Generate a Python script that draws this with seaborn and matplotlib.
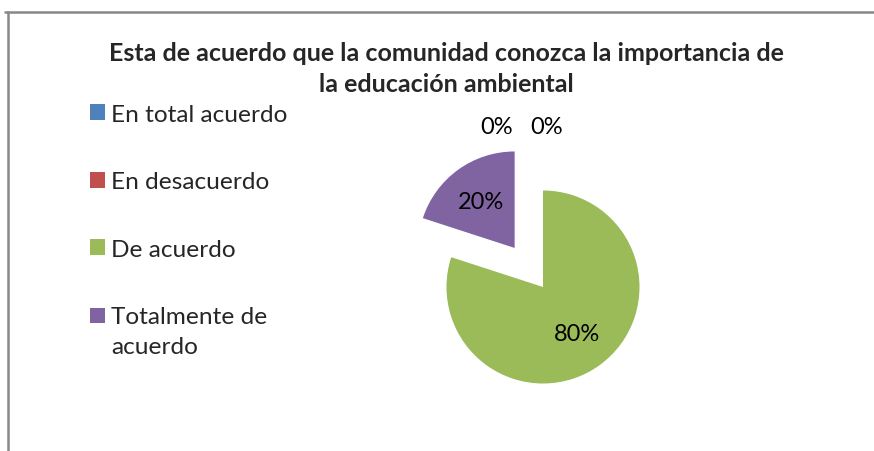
import matplotlib
matplotlib.use("Agg")
import matplotlib.pyplot as plt
import seaborn as sns
from matplotlib.lines import Line2D

# =========================
# DATA
# =========================

categorias = ["En total acuerdo", "En desacuerdo", "De acuerdo", "Totalmente de\nacuerdo"]
porcentajes = [0, 0, 80, 20]
colores = ["#4F81BD", "#C0504D", "#9BBB59", "#8064A2"]
separacion = [0, 0, 0, 0.5]

titulo = "Esta de acuerdo que la comunidad conozca la importancia de\nla educación ambiental"

# =========================
# FIGURE
# =========================

sns.set_theme(style="white")
plt.rcParams["font.family"] = ["Lato", "DejaVu Sans"]

W, H = 874, 452
fig = plt.figure(figsize=(W / 100, H / 100), dpi=100)

# pie axes: 96.5 px per data unit, center at (543, 288) px from top-left
r_px = 96.5
cx, cy = 543, 288
aw, ah = 400, 360
ax = fig.add_axes([(cx - aw / 2) / W, (H - cy - ah / 2) / H, aw / W, ah / H])

wedges, textos, autotextos = ax.pie(
    porcentajes,
    colors=colores,
    explode=separacion,
    startangle=90,
    counterclock=False,
    autopct="%1.0f%%",
    pctdistance=0.6,
    textprops={"fontsize": 17, "color": "black"},
    wedgeprops={"linewidth": 0},
)
ax.set_xlim(-aw / 2 / r_px, aw / 2 / r_px)
ax.set_ylim(-ah / 2 / r_px, ah / 2 / r_px)
ax.set_aspect("equal")
ax.axis("off")

# the two 0% labels sit above the pie, side by side
autotextos[0].set_position((-0.48, 1.66))
autotextos[1].set_position((0.04, 1.66))

# =========================
# LEGEND
# =========================

leg = fig.legend(
    wedges,
    categorias,
    loc="upper left",
    bbox_to_anchor=(90 / W, 1 - 105 / H),
    frameon=False,
    fontsize=17.6,
    handlelength=0.62,
    handleheight=0.62,
    handletextpad=0.25,
    labelspacing=1.9,
    borderpad=0,
    borderaxespad=0,
)
for t in leg.get_texts():
    t.set_linespacing(1.5)

# keep the last marker level with the first line of its two-line label
ultimo = leg.legend_handles[-1]
ultimo.set_y(ultimo.get_y() + 11.5)

# =========================
# TITLE
# =========================

fig.text(446 / W, 1 - 69 / H, titulo, ha="center", va="center",
         fontsize=18, fontweight="bold", linespacing=1.42)

# chart border (top and left visible)
borde = "#888888"
fig.add_artist(Line2D([5 / W, 1], [1 - 13 / H, 1 - 13 / H], color=borde, lw=1.8,
                      transform=fig.transFigure))
fig.add_artist(Line2D([8 / W, 8 / W], [0, 1 - 13 / H], color=borde, lw=1.8,
                      transform=fig.transFigure))

fig.savefig("out.png", dpi=100, facecolor="white")
